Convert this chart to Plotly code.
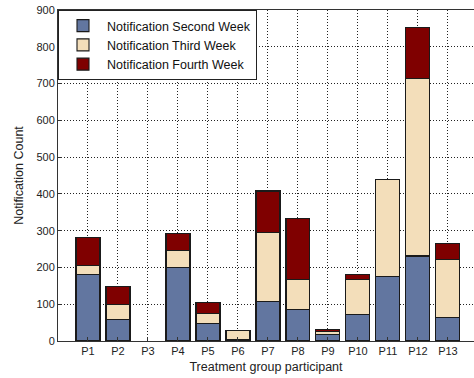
import plotly.graph_objects as go

participants = ["P1", "P2", "P3", "P4", "P5", "P6", "P7", "P8", "P9", "P10", "P11", "P12", "P13"]
second_week = [182, 59, 0, 200, 47, 5, 108, 86, 18, 73, 176, 231, 64]
third_week = [23, 41, 0, 45, 29, 24, 188, 82, 7, 95, 264, 483, 157]
fourth_week = [77, 47, 0, 48, 28, 0, 112, 164, 6, 14, 0, 139, 45]
y_ticks = [0, 100, 200, 300, 400, 500, 600, 700, 800, 900]

xpos = list(range(1, len(participants) + 1))
series = [
    ("Notification Second Week", second_week, "#6276A0"),
    ("Notification Third Week", third_week, "#F3DEBA"),
    ("Notification Fourth Week", fourth_week, "#7F0000"),
]

fig = go.Figure()
for name, vals, col in series:
    fig.add_trace(go.Bar(
        x=xpos, y=vals, name=name, width=0.8,
        marker=dict(color=col, line=dict(color="#1a1a1a",
                                         width=[1.1 if v > 0 else 0 for v in vals])),
    ))

font_family = "Liberation Sans, Arial, sans-serif"
axis_common = dict(
    showgrid=True, gridcolor="#222222", griddash="1px,2px", gridwidth=1,
    showline=True, linecolor="#333333", linewidth=1, mirror=True,
    ticks="inside", ticklen=4, tickcolor="#333333",
    tickfont=dict(size=11, color="#222222"),
    zeroline=False,
)
fig.update_layout(
    barmode="stack",
    width=474, height=378,
    margin=dict(l=58, r=0, t=10, b=37, autoexpand=False),
    paper_bgcolor="white", plot_bgcolor="white",
    font=dict(family=font_family, size=12, color="#222222"),
    showlegend=True,
    legend=dict(
        x=0, y=1, xanchor="left", yanchor="top",
        bgcolor="white", bordercolor="#222222", borderwidth=1,
        font=dict(size=12.5, color="#111111"),
        tracegroupgap=0, itemwidth=38,
        traceorder="normal",
    ),
    xaxis=dict(
        range=[0, 13.87],
        tickmode="array", tickvals=xpos, ticktext=participants,
        title=dict(text="Treatment group participant", font=dict(size=12.5, color="#222222"), standoff=6),
        **axis_common,
    ),
    yaxis=dict(
        range=[0, 900],
        tickmode="array", tickvals=y_ticks,
        title=dict(text="Notification Count", font=dict(size=12.5, color="#222222"), standoff=10),
        **axis_common,
    ),
)

fig.write_html("out.html", config={"displayModeBar": False},
               post_script="document.body.style.margin='0';document.body.style.overflow='hidden';")
